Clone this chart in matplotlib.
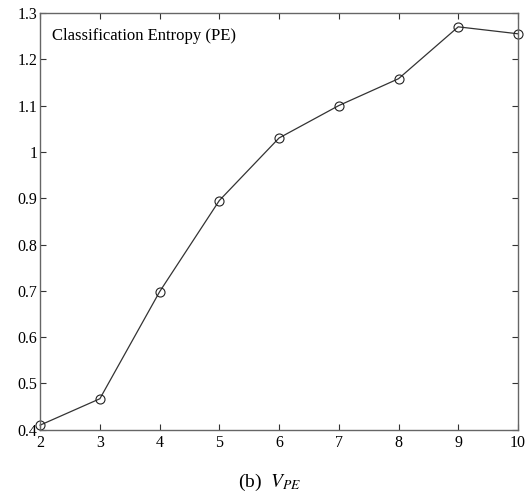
import matplotlib
matplotlib.use("Agg")
import matplotlib.pyplot as plt

# cluster numbers and the classification entropy values
clusters = [2, 3, 4, 5, 6, 7, 8, 9, 10]
pe_values = [0.41, 0.467, 0.698, 0.895, 1.03, 1.10, 1.158, 1.27, 1.255]
y_ticks = [0.4, 0.5, 0.6, 0.7, 0.8, 0.9, 1, 1.1, 1.2, 1.3]
y_labels = ['0.4', '0.5', '0.6', '0.7', '0.8', '0.9', '1', '1.1', '1.2', '1.3']

plt.rcParams['font.family'] = ['Liberation Serif', 'DejaVu Serif']
plt.rcParams['mathtext.fontset'] = 'stix'

fig = plt.figure(figsize=(5.28, 4.98), dpi=100)
ax = fig.add_axes([0.076, 0.137, 0.905, 0.837])

ax.plot(clusters, pe_values, color='#333333', linewidth=0.9,
        marker='o', markersize=6.5, markerfacecolor='none',
        markeredgecolor='#222222', markeredgewidth=0.8, clip_on=False)

ax.set_xlim(2, 10)
ax.set_ylim(0.4, 1.3)
ax.set_xticks(clusters)
ax.set_yticks(y_ticks)
ax.set_yticklabels(y_labels)
ax.tick_params(direction='in', top=True, right=True, length=4, width=0.8,
               labelsize=11.5, pad=2, color='#333333')
ax.tick_params(axis='x', pad=4)
for s in ax.spines.values():
    s.set_color('#666666')
    s.set_linewidth(1.0)

ax.text(0.025, 0.945, 'Classification Entropy (PE)', transform=ax.transAxes,
        fontsize=12, ha='left', va='center')

fig.text(0.51, 0.032, r'(b)  $V_{PE}$', fontsize=14, ha='center', va='center')

fig.savefig('out.png', dpi=100)
